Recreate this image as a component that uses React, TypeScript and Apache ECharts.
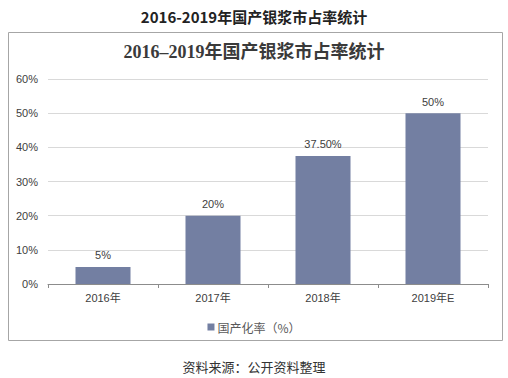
import React, { useEffect, useRef } from "react";
import * as echarts from "echarts";

const categories = ["2016年", "2017年", "2018年", "2019年E"];
const values = [5, 20, 37.5, 50];
const valueLabels = ["5%", "20%", "37.50%", "50%"];
const seriesName = "国产化率（%）";
const outerTitle = "2016-2019年国产银浆市占率统计";
const innerTitle = "2016–2019年国产银浆市占率统计";
const sourceText = "资料来源：公开资料整理";

export default function App() {
  const ref = useRef<HTMLDivElement>(null);
  useEffect(() => {
    const chart = echarts.init(ref.current!, null, { renderer: "svg" });
    const sans = "Arial, 'Liberation Sans', 'Noto Sans CJK SC', sans-serif";
    chart.setOption({
      animation: false,
      backgroundColor: "#ffffff",
      title: [
        {
          text: outerTitle,
          left: "center",
          top: 9,
          padding: 0,
          textStyle: { fontSize: 15, fontWeight: "bold", color: "#222", fontFamily: "'Noto Sans CJK SC', sans-serif" },
        },
        {
          text: innerTitle,
          left: "center",
          top: 43,
          padding: 0,
          textStyle: { fontSize: 18, fontWeight: "bold", color: "#3a3a3a", fontFamily: "'Liberation Serif', 'Noto Sans CJK SC', serif" },
        },
        {
          text: sourceText,
          left: "center",
          top: 360,
          padding: 0,
          textStyle: { fontSize: 13, fontWeight: "normal", color: "#333", fontFamily: "'Noto Sans CJK SC', sans-serif" },
        },
      ],
      graphic: [
        {
          type: "rect",
          shape: { x: 8.5, y: 32.5, width: 494, height: 308 },
          style: { fill: "none", stroke: "#a6a6a6", lineWidth: 1 },
          silent: true,
        },
      ],
      legend: {
        data: [seriesName],
        left: "center",
        top: 316,
        icon: "rect",
        itemWidth: 7,
        itemHeight: 7,
        itemGap: 4,
        textStyle: { fontSize: 12, color: "#595959", fontFamily: "'Noto Sans CJK SC', sans-serif", padding: [0, 0, 0, -2] },
      },
      grid: { left: 48, right: 20, top: 79, bottom: 94, containLabel: false },
      xAxis: {
        type: "category",
        data: categories,
        axisLine: { lineStyle: { color: "#8c8c8c" } },
        axisTick: { show: true, length: 4, lineStyle: { color: "#8c8c8c" } },
        axisLabel: { fontSize: 11, color: "#404040", margin: 8, fontFamily: sans },
      },
      yAxis: {
        type: "value",
        min: 0,
        max: 60,
        interval: 10,
        axisLine: { show: false },
        axisTick: { show: false },
        axisLabel: { formatter: "{value}%", fontSize: 11, color: "#404040", margin: 10, fontFamily: sans },
        splitLine: { lineStyle: { color: "#d9d9d9" } },
      },
      series: [
        {
          name: seriesName,
          type: "bar",
          data: values,
          barWidth: "50%",
          itemStyle: { color: "#737fa2" },
          label: {
            show: true,
            position: "top",
            distance: 6,
            fontSize: 11,
            color: "#404040",
            fontFamily: sans,
            formatter: (p: any) => valueLabels[p.dataIndex],
          },
        },
      ],
    });
    return () => chart.dispose();
  }, []);
  return <div ref={ref} style={{ position: "absolute", left: 0, top: 0, width: 508, height: 378 }} />;
}
